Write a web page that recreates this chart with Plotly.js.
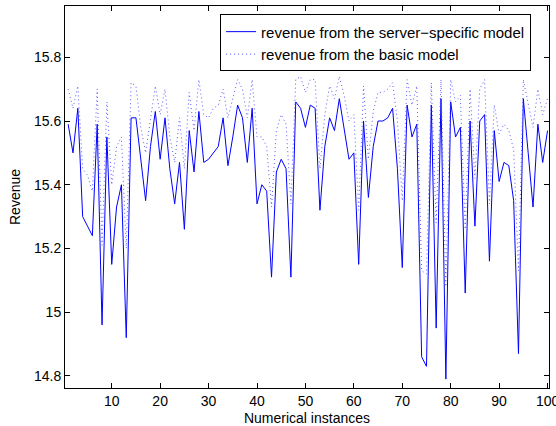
<!DOCTYPE html>
<html>
<head>
<meta charset="utf-8">
<script src="https://cdn.plot.ly/plotly-3.0.1.min.js"></script>
<style>html,body{margin:0;padding:0;background:#fff;}#chart{width:556px;height:426px;}</style>
</head>
<body>
<div id="chart"></div>
<script>
const instances = Array.from({length: 100}, (_, i) => i + 1);

const serverSpecific = [
  15.59, 15.50, 15.64, 15.30, 15.27, 15.24, 15.59, 14.96, 15.55, 15.15,
  15.33, 15.40, 14.92, 15.61, 15.61, 15.47, 15.35, 15.52, 15.63, 15.48,
  15.61, 15.45, 15.34, 15.47, 15.26, 15.57, 15.44, 15.63, 15.47, 15.48,
  15.50, 15.52, 15.61, 15.46, 15.55, 15.65, 15.61, 15.47, 15.64, 15.34,
  15.40, 15.38, 15.11, 15.44, 15.48, 15.45, 15.11, 15.66, 15.64, 15.58,
  15.65, 15.64, 15.32, 15.52, 15.61, 15.57, 15.67, 15.58, 15.48, 15.50,
  15.15, 15.60, 15.36, 15.52, 15.60, 15.60, 15.61, 15.64, 15.45, 15.14,
  15.65, 15.55, 15.59, 14.86, 14.83, 15.65, 14.95, 15.67, 14.79, 15.66,
  15.55, 15.58, 15.06, 15.60, 15.27, 15.60, 15.62, 15.16, 15.57, 15.41,
  15.47, 15.46, 15.35, 14.87, 15.67, 15.50, 15.33, 15.59, 15.47, 15.57
];

const basicModel = [
  15.70, 15.64, 15.71, 15.45, 15.43, 15.38, 15.70, 15.21, 15.66, 15.40,
  15.52, 15.55, 15.20, 15.72, 15.71, 15.58, 15.50, 15.61, 15.71, 15.62,
  15.70, 15.55, 15.47, 15.61, 15.45, 15.69, 15.57, 15.73, 15.62, 15.61,
  15.64, 15.65, 15.70, 15.61, 15.67, 15.73, 15.70, 15.61, 15.73, 15.55,
  15.55, 15.52, 15.33, 15.57, 15.62, 15.59, 15.34, 15.73, 15.74, 15.69,
  15.73, 15.73, 15.45, 15.62, 15.71, 15.67, 15.74, 15.68, 15.60, 15.62,
  15.32, 15.71, 15.48, 15.63, 15.69, 15.69, 15.70, 15.72, 15.60, 15.35,
  15.73, 15.65, 15.71, 15.13, 15.12, 15.72, 15.28, 15.73, 15.08, 15.73,
  15.66, 15.68, 15.26, 15.70, 15.42, 15.70, 15.73, 15.34, 15.65, 15.56,
  15.59, 15.57, 15.51, 15.13, 15.73, 15.66, 15.58, 15.70, 15.62, 15.67
];

const seriesNames = ['revenue from the server\u2212specific model', 'revenue from the basic model'];
const xTickVals = [10, 20, 30, 40, 50, 60, 70, 80, 90, 100];
const yTickVals = [14.8, 15, 15.2, 15.4, 15.6, 15.8];

const font = {family: 'Liberation Sans, Arial, sans-serif', size: 14, color: '#000'};
const legendFont = {family: 'Liberation Sans, Arial, sans-serif', size: 15, color: '#000'};

const traces = [
  {x: instances, y: serverSpecific, name: seriesNames[0], mode: 'lines', type: 'scatter',
   line: {color: 'rgb(0,0,255)', width: 1}},
  {x: instances, y: basicModel, name: seriesNames[1], mode: 'lines', type: 'scatter',
   line: {color: 'rgb(90,90,255)', width: 1, dash: '1px,3px'}}
];

const axisCommon = {
  showline: true, linecolor: '#000', linewidth: 1, mirror: 'ticks',
  ticks: 'inside', ticklen: 5, tickcolor: '#000', showgrid: false, zeroline: false,
  tickfont: font, ticklabeloverflow: 'allow'
};

const layout = {
  width: 556, height: 426,
  margin: {l: 65, r: 7, t: 6, b: 38},
  paper_bgcolor: '#fff', plot_bgcolor: '#fff',
  font: font,
  showlegend: true,
  legend: {x: 0.963, xanchor: 'right', y: 0.978, yanchor: 'top',
           bgcolor: '#fff', bordercolor: '#000', borderwidth: 1,
           font: legendFont, tracegroupgap: 0},
  xaxis: Object.assign({}, axisCommon, {
    range: [0.35, 100.3], tickvals: xTickVals,
    title: {text: 'Numerical instances', font: font, standoff: 6}
  }),
  yaxis: Object.assign({}, axisCommon, {
    range: [14.762, 15.961], tickvals: yTickVals,
    title: {text: 'Revenue', font: font, standoff: 10}
  })
};

Plotly.newPlot('chart', traces, layout, {displayModeBar: false, staticPlot: true});
</script>
</body>
</html>
